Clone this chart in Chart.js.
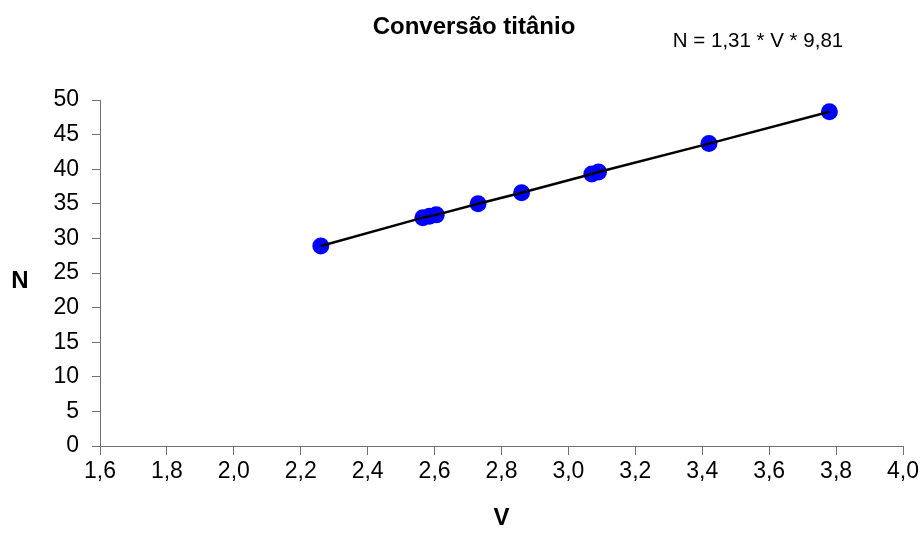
<!DOCTYPE html>
<html>
<head>
  <meta charset="utf-8">
  <title>Conversão titânio</title>
  <script src="https://cdn.jsdelivr.net/npm/chart.js"></script>
  <style>
    body { margin: 0; padding: 0; background: #fff; }
    #grafico { display: block; }
  </style>
</head>
<body>
  <canvas id="grafico" width="922" height="543"></canvas>
  <script>
    // valores
    const valoresV = [2.26, 2.565, 2.585, 2.605, 2.73, 2.86, 3.07, 3.09, 3.42, 3.78];
    const valoresN = [28.9, 33.0, 33.2, 33.4, 35.0, 36.6, 39.3, 39.6, 43.7, 48.3];
    const ticksV = [1.6, 1.8, 2.0, 2.2, 2.4, 2.6, 2.8, 3.0, 3.2, 3.4, 3.6, 3.8, 4.0];
    const ticksN = [0, 5, 10, 15, 20, 25, 30, 35, 40, 45, 50];

    const titulo = "Conversão titânio";
    const formula = "N = 1,31 * V * 9,81";

    const pontos = valoresV.map((v, i) => ({ x: v, y: valoresN[i] }));
    const fonte = "'Liberation Sans', Arial, sans-serif";
    const corEixo = "#707070";

    // textos fora dos eixos: título, fórmula e o N deitado
    const textos = {
      id: 'textos',
      afterDraw(chart) {
        const ctx = chart.ctx;
        ctx.save();
        ctx.fillStyle = "#000";
        ctx.textAlign = "center";
        ctx.textBaseline = "middle";
        ctx.font = "bold 24px " + fonte;
        ctx.fillText(titulo, 474, 27);
        ctx.font = "20.5px " + fonte;
        ctx.fillText(formula, 758, 41);
        ctx.font = "bold 24px " + fonte;
        ctx.fillText("N", 20, 281);
        ctx.restore();
      }
    };

    new Chart(document.getElementById("grafico").getContext("2d"), {
      type: 'scatter',
      data: {
        datasets: [
          {
            label: 'reta',
            data: pontos,
            showLine: true,
            borderColor: "#000",
            borderWidth: 2.5,
            pointRadius: 0,
            order: 1
          },
          {
            label: 'medidas',
            data: pontos,
            pointRadius: 8.5,
            backgroundColor: "#0000ff",
            borderColor: "#0000ff",
            borderWidth: 0,
            order: 2
          }
        ]
      },
      options: {
        responsive: false,
        animation: false,
        devicePixelRatio: 1,
        layout: { padding: { top: 100, right: 12, left: 0, bottom: 0 } },
        plugins: {
          legend: { display: false },
          tooltip: { enabled: false },
          title: { display: false }
        },
        scales: {
          x: {
            type: 'linear',
            min: 1.6,
            max: 4.0,
            afterBuildTicks: s => { s.ticks = ticksV.map(v => ({ value: v })); },
            afterFit: s => { s.height = 97; },
            ticks: {
              color: "#000",
              font: { family: fonte, size: 23 },
              padding: 3,
              maxRotation: 0,
              autoSkip: false,
              callback: v => v.toFixed(1).replace('.', ',')
            },
            grid: { drawOnChartArea: false, tickLength: 9, color: corEixo },
            border: { color: corEixo, width: 1 },
            title: {
              display: true,
              text: 'V',
              color: "#000",
              font: { family: fonte, size: 24, weight: 'bold' },
              padding: { top: 0, bottom: 10 }
            }
          },
          y: {
            min: 0,
            max: 50,
            afterBuildTicks: s => { s.ticks = ticksN.map(v => ({ value: v })); },
            afterFit: s => { s.width = 100; },
            ticks: {
              color: "#000",
              font: { family: fonte, size: 23 },
              padding: 13,
              autoSkip: false
            },
            grid: { drawOnChartArea: false, tickLength: 8, color: corEixo },
            border: { color: corEixo, width: 1 }
          }
        }
      },
      plugins: [textos]
    });
  </script>
</body>
</html>
